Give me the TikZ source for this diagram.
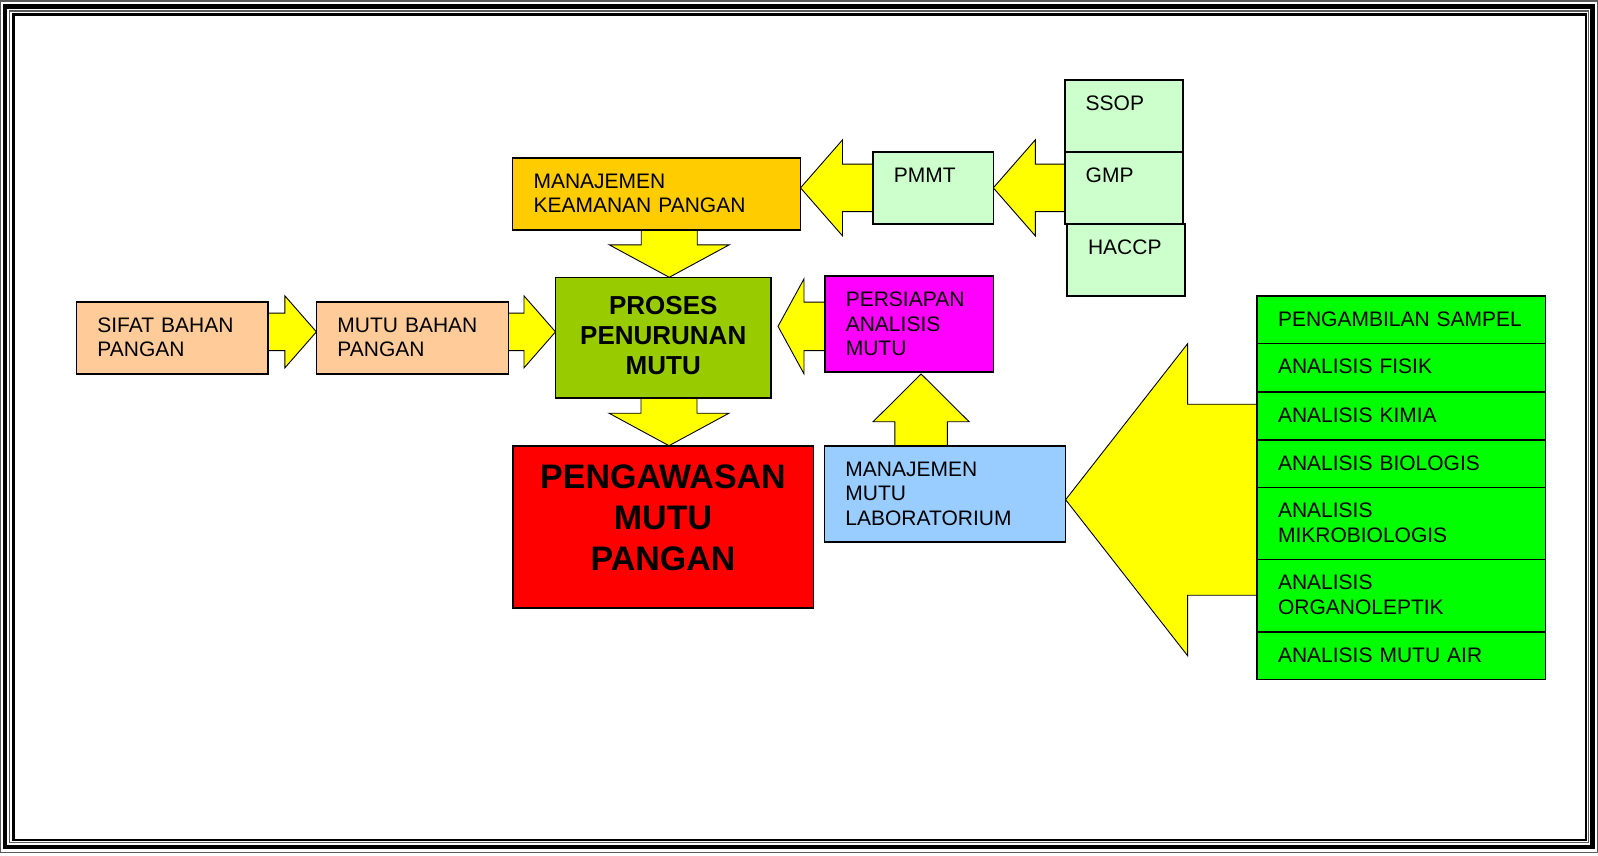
\documentclass[tikz,border=0pt]{standalone}
\usepackage{fontspec}
\setmainfont{Liberation Sans}
\usepackage{tikz}
\usepackage{xcolor}
\usetikzlibrary{calc,backgrounds}

\definecolor{keamanan}{HTML}{FFCC00}
\definecolor{mintbox}{HTML}{CCFFCC}
\definecolor{peach}{HTML}{FFCC99}
\definecolor{prosesgreen}{HTML}{99CC00}
\definecolor{pinkbox}{HTML}{FF00FF}
\definecolor{labblue}{HTML}{99CCFF}
\definecolor{redbox}{HTML}{FF0000}
\definecolor{analisis}{HTML}{00FF00}
\definecolor{arrowyellow}{HTML}{FFFF00}

\newcommand{\boxfont}{\fontsize{21}{24.5}\selectfont}
\newcommand{\blockarrow}[5]{%
  \coordinate (ba-s) at (#1);
  \coordinate (ba-t) at (#2);
  \coordinate (ba-h) at ($(ba-t)!#5!(ba-s)$);
  \draw[fatarrow] ($(ba-s)!#3!90:(ba-t)$) -- ($(ba-h)!#3!90:(ba-t)$) -- ($(ba-h)!#4!90:(ba-t)$)
    -- (ba-t) -- ($(ba-h)!#4!-90:(ba-t)$) -- ($(ba-h)!#3!-90:(ba-t)$) -- ($(ba-s)!#3!-90:(ba-t)$) -- cycle;
}

\tikzset{
  box/.style={draw, line width=1.6pt, anchor=north west, inner xsep=21pt, inner ysep=0pt, outer sep=0pt,
    align=left, font=\boxfont, text height=30.5pt},
  fatarrow/.style={draw, line width=0.9pt, fill=arrowyellow, line join=miter},
  framegray/.style={draw=black!65, line width=1.2pt}
}

\begin{document}
\begin{tikzpicture}[x=1pt,y=-1pt]
\useasboundingbox (0,0) rectangle (1598,855);
\draw[framegray] (0.7,0.9) rectangle (1597.2,852.6);
\draw[line width=4.6pt] (5,6.6) rectangle (1592.5,847);
\draw[framegray] (9.4,11) rectangle (1588.5,842.6);
\draw[line width=2.4pt] (13.4,14.5) rectangle (1586,840);

\node[box, fill=keamanan, text width=246pt, text depth=41.8pt] (mkp) at (512.5,157.7) {MANAJEMEN\\KEAMANAN PANGAN};
\node[box, fill=mintbox, text width=78.5pt, text depth=41.8pt] (pmmt) at (872.8,151.7) {PMMT};
\node[box, fill=mintbox, text width=76.3pt, text depth=41.2pt] (ssop) at (1064.7,80) {SSOP};
\node[box, fill=mintbox, text width=76.3pt, text depth=41.8pt] (gmp) at (ssop.south west) {GMP};
\node[box, fill=mintbox, text width=76pt, text depth=41.5pt] (haccp) at (1067,224) {HACCP};

\node[box, fill=peach, text width=149.5pt, text depth=41.8pt] (sifat) at (76.4,301.7) {SIFAT BAHAN\\PANGAN};
\node[box, fill=peach, text width=150pt, text depth=41.8pt] (mutu) at (316.4,301.7) {MUTU BAHAN\\PANGAN};
\node[box, fill=prosesgreen, inner xsep=10pt, text width=195.5pt, align=center, text height=37pt, text depth=83.4pt,
  font=\fontsize{26}{30}\selectfont\bfseries] (proses) at (555.5,277.3) {PROSES\\PENURUNAN\\MUTU};
\node[box, fill=pinkbox, text width=126.6pt, text depth=65.2pt] (persiapan) at (824.8,276) {PERSIAPAN\\ANALISIS\\MUTU};

\node[box, fill=redbox, inner xsep=10pt, text width=280.6pt, align=center, text height=42.6pt, text depth=119.4pt,
  font=\fontsize{34}{41}\selectfont\bfseries] (pengawasan) at (512.7,445.7) {PENGAWASAN\\MUTU\\PANGAN};
\node[box, fill=labblue, text width=199.2pt, text depth=65.5pt] (mml) at (824.4,445.7) {MANAJEMEN\\MUTU\\LABORATORIUM};

\node[box, fill=analisis, text width=246.5pt, text depth=17.1pt] (g1) at (1257,295.7) {PENGAMBILAN~SAMPEL};
\node[box, fill=analisis, text width=246.5pt, text depth=17.9pt] (g2) at (g1.south west) {ANALISIS FISIK};
\node[box, fill=analisis, text width=246.5pt, text depth=17.8pt] (g3) at (g2.south west) {ANALISIS KIMIA};
\node[box, fill=analisis, text width=246.5pt, text depth=16.8pt] (g4) at (g3.south west) {ANALISIS BIOLOGIS};
\node[box, fill=analisis, text width=246.5pt, text depth=41.5pt] (g5) at (g4.south west) {ANALISIS\\MIKROBIOLOGIS};
\node[box, fill=analisis, text width=246.5pt, text depth=41.9pt] (g6) at (g5.south west) {ANALISIS\\ORGANOLEPTIK};
\node[box, fill=analisis, text width=246.5pt, text depth=17.1pt] (g7) at (g6.south west) {ANALISIS MUTU AIR};

\begin{pgfonlayer}{background}
\blockarrow{pmmt.west}{pmmt.west -| mkp.east}{23.7pt}{48pt}{42pt}
\blockarrow{gmp.west}{gmp.west -| pmmt.east}{23.7pt}{48pt}{42pt}
\blockarrow{$(sifat.east)+(0,-6)$}{$(sifat.east -| mutu.west)+(0,-6)$}{18.7pt}{36pt}{31.5pt}
\blockarrow{$(mutu.east)+(0,-6)$}{$(mutu.east -| proses.west)+(0,-6)$}{18.7pt}{36pt}{31.5pt}
\blockarrow{$(persiapan.west)+(0,2.5)$}{$(persiapan.west -| proses.east)+(7,2.5)$}{24.2pt}{47.5pt}{26pt}
\coordinate (dx) at ($(proses.north)+(6,0)$);
\blockarrow{dx |- mkp.south}{dx}{28pt}{60pt}{32.5pt}
\coordinate (dy) at ($(pengawasan.north)+(6,0)$);
\blockarrow{dy |- proses.south}{dy}{28pt}{60pt}{32.5pt}
\coordinate (ux) at ($(persiapan.south)+(12,2.3)$);
\blockarrow{ux |- mml.north}{ux}{26.3pt}{48pt}{47.7pt}
\coordinate (bt) at ($(mml.east)+(0,6)$);
\blockarrow{bt -| g1.west}{bt}{95.5pt}{156pt}{122pt}
\end{pgfonlayer}
\end{tikzpicture}
\end{document}
